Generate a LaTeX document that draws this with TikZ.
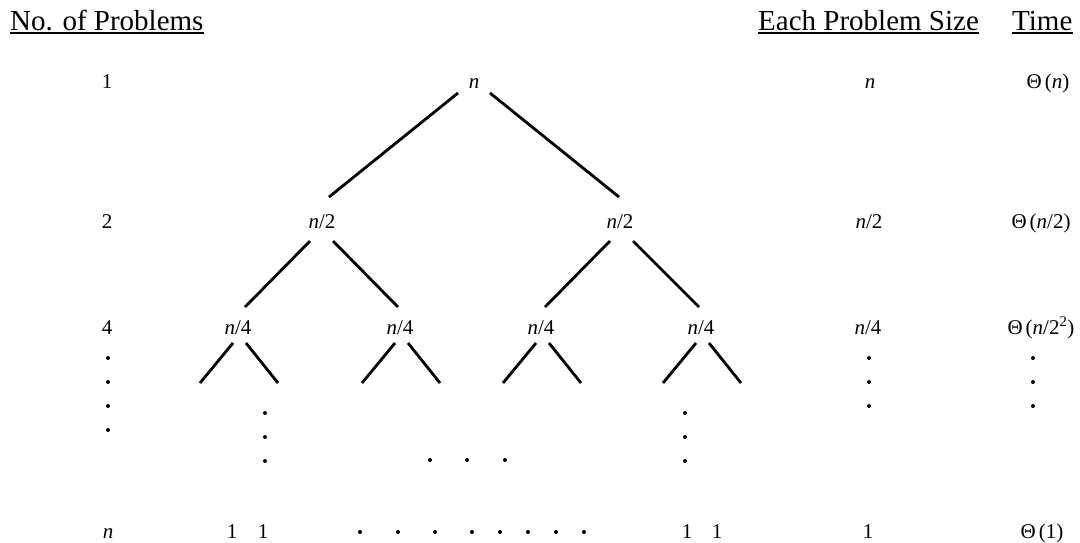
\documentclass[tikz,border=0pt]{standalone}
\usepackage{fontspec}
\setmainfont{Liberation Serif}
\newcommand{\bigtheta}{Θ\hspace{3pt}}
\begin{document}
\begin{tikzpicture}[x=1pt,y=-1pt,
  lbl/.style={inner sep=0pt, anchor=base, font=\fontsize{21}{25}\selectfont},
  head/.style={inner sep=0pt, anchor=base west, font=\fontsize{29}{34}\selectfont},
  edge/.style={line width=2.8pt},
  uline/.style={line width=1.4pt},
  pt/.style={fill=black}]
\useasboundingbox (0,0) rectangle (1080,542);

% column headings
\node[head] (hcount) at (10,30) {No. of Problems};
\node[head] (hsize) at (758,30) {Each Problem Size};
\node[head] (htime) at (1012,30) {Time};
\foreach \h in {hcount,hsize,htime}
  \draw[uline] ([shift={(0,3)}]\h.base west) -- ([shift={(0,3)}]\h.base east);

% number of subproblems per level
\node[lbl] (k1) at (107,88) {1};
\node[lbl] (k2) at (107,228) {2};
\node[lbl] (k4) at (107,334) {4};
\node[lbl] (kn) at (108,538) {\textit{n}};
\foreach \y in {358,382,406,430} \fill[pt] (108,\y) circle (2);

% recursion tree
\node[lbl] (root) at (474,88) {\textit{n}};
\node[lbl] (a) at (322,228) {\textit{n}/2};
\node[lbl] (b) at (620,228) {\textit{n}/2};
\node[lbl] (c1) at (238,334) {\textit{n}/4};
\node[lbl] (c2) at (400,334) {\textit{n}/4};
\node[lbl] (c3) at (541,334) {\textit{n}/4};
\node[lbl] (c4) at (701,334) {\textit{n}/4};

\draw[edge] ([shift={(-16,5)}]root.base) -- ([shift={(7,-31)}]a.base);
\draw[edge] ([shift={(16,5)}]root.base) -- ([shift={(-1,-31)}]b.base);
\draw[edge] ([shift={(-12,13)}]a.base) -- ([shift={(7,-27)}]c1.base);
\draw[edge] ([shift={(11,13)}]a.base) -- ([shift={(-2,-27)}]c2.base);
\draw[edge] ([shift={(-10,13)}]b.base) -- ([shift={(4,-27)}]c3.base);
\draw[edge] ([shift={(13,13)}]b.base) -- ([shift={(-2,-27)}]c4.base);

\foreach \c in {c1,c2,c3,c4} {
  \coordinate (\c l) at ([shift={(-38,49)}]\c.base);
  \coordinate (\c r) at ([shift={(40,49)}]\c.base);
  \draw[edge] ([shift={(-5,9)}]\c.base) -- (\c l);
  \draw[edge] ([shift={(8,9)}]\c.base) -- (\c r);
}

% elided levels
\foreach \y in {413,437,461} {
  \fill[pt] (265,\y) circle (2);
  \fill[pt] (685,\y) circle (2);
}
\foreach \x in {430,467,505} \fill[pt] (\x,460) circle (2);

% leaves
\node[lbl] (l1) at (232,538) {1};
\node[lbl] (l2) at (263,538) {1};
\node[lbl] (l3) at (687,538) {1};
\node[lbl] (l4) at (717,538) {1};
\foreach \x in {360,398,435,472,500,528,556,584} \fill[pt] (\x,532) circle (2);

% size of each subproblem
\node[lbl] (s1) at (870,88) {\textit{n}};
\node[lbl] (s2) at (869,228) {\textit{n}/2};
\node[lbl] (s3) at (868,334) {\textit{n}/4};
\node[lbl] (sn) at (868,538) {1};
\foreach \y in {358,382,406} {
  \fill[pt] (869,\y) circle (2);
  \fill[pt] (1033,\y) circle (2);
}

% time per level
\node[lbl] (t1) at (1048,88) {\bigtheta(\textit{n})};
\node[lbl] (t2) at (1041,228) {\bigtheta(\textit{n}/2)};
\node[lbl] (t3) at (1041,334) {\bigtheta(\textit{n}/2\textsuperscript{2})};
\node[lbl] (tn) at (1042,538) {\bigtheta(1)};
\end{tikzpicture}
\end{document}
